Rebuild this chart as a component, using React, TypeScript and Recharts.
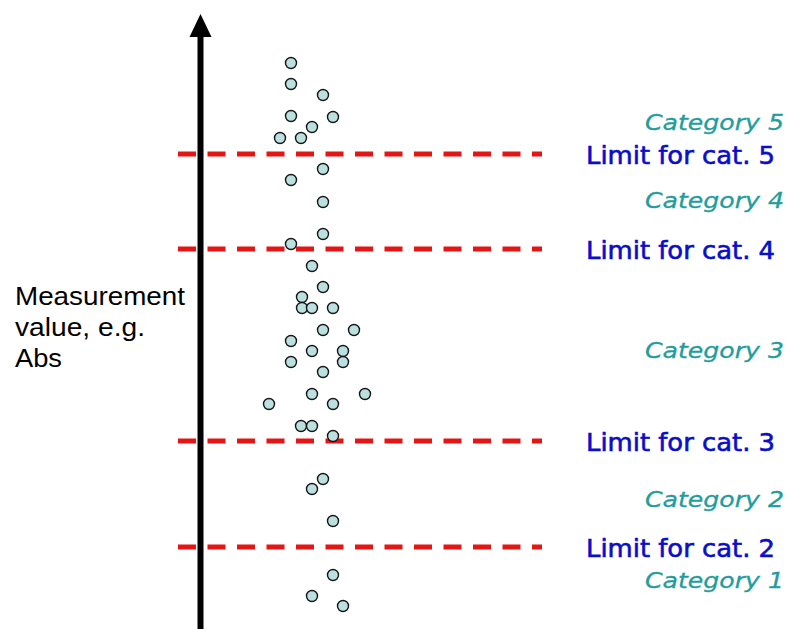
import React from 'react'
import { ScatterChart, Scatter, XAxis, YAxis, ReferenceLine, ReferenceDot } from 'recharts'

/* ── data ────────────────────────────────────────────────── */

// pos = horizontal jitter, value = measurement value (1 unit = 10 px)
const cat1Points = [
  { pos: 33.3, value: 5.4 },
  { pos: 31.2, value: 3.3 },
  { pos: 34.3, value: 2.3 },
]
const cat2Points = [
  { pos: 32.3, value: 15.0 },
  { pos: 31.2, value: 14.0 },
  { pos: 33.3, value: 10.8 },
]
const cat3Points = [
  { pos: 31.2, value: 36.3 },
  { pos: 32.3, value: 34.2 },
  { pos: 30.2, value: 33.2 },
  { pos: 30.2, value: 32.1 },
  { pos: 31.2, value: 32.1 },
  { pos: 33.3, value: 32.1 },
  { pos: 32.3, value: 29.9 },
  { pos: 35.4, value: 29.9 },
  { pos: 29.1, value: 28.8 },
  { pos: 31.2, value: 27.8 },
  { pos: 34.3, value: 27.8 },
  { pos: 29.1, value: 26.7 },
  { pos: 34.3, value: 26.7 },
  { pos: 32.3, value: 25.7 },
  { pos: 31.2, value: 23.5 },
  { pos: 36.5, value: 23.5 },
  { pos: 26.9, value: 22.5 },
  { pos: 33.3, value: 22.5 },
  { pos: 30.1, value: 20.3 },
  { pos: 31.2, value: 20.3 },
  { pos: 33.3, value: 19.3 },
]
const cat4Points = [
  { pos: 32.3, value: 46.0 },
  { pos: 29.1, value: 44.9 },
  { pos: 32.3, value: 42.7 },
  { pos: 32.3, value: 39.5 },
  { pos: 29.1, value: 38.5 },
]
const cat5Points = [
  { pos: 29.1, value: 56.6 },
  { pos: 29.1, value: 54.5 },
  { pos: 32.3, value: 53.4 },
  { pos: 29.1, value: 51.3 },
  { pos: 33.3, value: 51.2 },
  { pos: 31.2, value: 50.2 },
  { pos: 28.0, value: 49.1 },
  { pos: 30.1, value: 49.1 },
]

const limitValues = [8.2, 18.8, 38.0, 47.5]
const limitLabels = ['Limit for cat. 2', 'Limit for cat. 3', 'Limit for cat. 4', 'Limit for cat. 5']

const categoryNames = ['Category 1', 'Category 2', 'Category 3', 'Category 4', 'Category 5']
const categoryLabelValues = [4.9, 13.0, 27.9, 42.9, 50.7]

const axisTitleLines = ['Measurement', 'value, e.g.', 'Abs']

const allPoints = [...cat1Points, ...cat2Points, ...cat3Points, ...cat4Points, ...cat5Points]

/* ── layout / style ──────────────────────────────────────── */

const W = 789
const H = 629
const X_MAX = 78.9
const Y_MAX = 62.9

const AXIS_POS = 20.05
const LINE_START = 17.8
const LINE_END = 54.2
const LIMIT_LABEL_POS = 58.6
const CATEGORY_LABEL_POS = 78.4

const RED = '#e31515'
const BLUE = '#0a0ec8'
const TEAL = '#229c9c'
const textFont = '"DejaVu Sans", Verdana, sans-serif'

const Dot = (props: any) => (
  <circle cx={props.cx} cy={props.cy} r={5.5} fill="#bcdfe0" stroke="#151515" strokeWidth={1.4} />
)

const ArrowHead = (props: any) => {
  const { cx, cy } = props
  return <polygon points={`${cx},${cy} ${cx - 11},${cy + 23} ${cx + 11},${cy + 23}`} fill="#000" />
}

const limitLabel = (text: string) => (props: any) => (
  <text
    x={props.cx}
    y={props.cy + 10}
    fill={BLUE}
    stroke={BLUE}
    strokeWidth={0.6}
    fontFamily={textFont}
    fontSize={25}
    textLength={189}
    lengthAdjust="spacingAndGlyphs"
  >
    {text}
  </text>
)

const categoryLabel = (text: string) => (props: any) => (
  <text
    x={props.cx}
    y={props.cy + 8}
    fill={TEAL}
    stroke={TEAL}
    strokeWidth={0.3}
    fontFamily={textFont}
    fontStyle="italic"
    fontSize={22}
    textAnchor="end"
    textLength={139}
    lengthAdjust="spacingAndGlyphs"
  >
    {text}
  </text>
)

const titleWidths = [170, 130, 47]

const AxisTitle = (props: any) => (
  <g>
    {axisTitleLines.map((line, i) => (
      <text
        key={line}
        x={props.cx}
        y={props.cy + i * 31}
        fill="#000"
        fontFamily='"Liberation Sans", Arial, sans-serif'
        fontSize={26}
        textLength={titleWidths[i]}
        lengthAdjust="spacingAndGlyphs"
      >
        {line}
      </text>
    ))}
  </g>
)

export default function App() {
  return (
    <div style={{ position: 'absolute', left: 0, top: 0, width: W, height: H, background: '#fff' }}>
      <ScatterChart width={W} height={H} margin={{ top: 0, right: 0, bottom: 0, left: 0 }}>
        <XAxis type="number" dataKey="pos" domain={[0, X_MAX]} hide />
        <YAxis type="number" dataKey="value" domain={[0, Y_MAX]} hide />

        <Scatter data={allPoints} shape={Dot} isAnimationActive={false} />

        {/* vertical arrow */}
        <ReferenceLine
          segment={[
            { x: AXIS_POS, y: 0 },
            { x: AXIS_POS, y: 59.6 },
          ]}
          stroke="#000"
          strokeWidth={6}
        />
        <ReferenceDot x={AXIS_POS} y={61.5} r={0} shape={ArrowHead} />

        {limitValues.map((v) => (
          <ReferenceLine
            key={`lim-${v}`}
            segment={[
              { x: LINE_START, y: v },
              { x: LINE_END, y: v },
            ]}
            stroke={RED}
            strokeWidth={5}
            strokeDasharray="18 11.5"
          />
        ))}

        {limitValues.map((v, i) => (
          <ReferenceDot key={`ll-${v}`} x={LIMIT_LABEL_POS} y={v} r={0} shape={limitLabel(limitLabels[i])} />
        ))}

        {categoryLabelValues.map((v, i) => (
          <ReferenceDot key={`cl-${v}`} x={CATEGORY_LABEL_POS} y={v} r={0} shape={categoryLabel(categoryNames[i])} />
        ))}

        <ReferenceDot x={1.5} y={32.4} r={0} shape={AxisTitle} />
      </ScatterChart>
    </div>
  )
}
